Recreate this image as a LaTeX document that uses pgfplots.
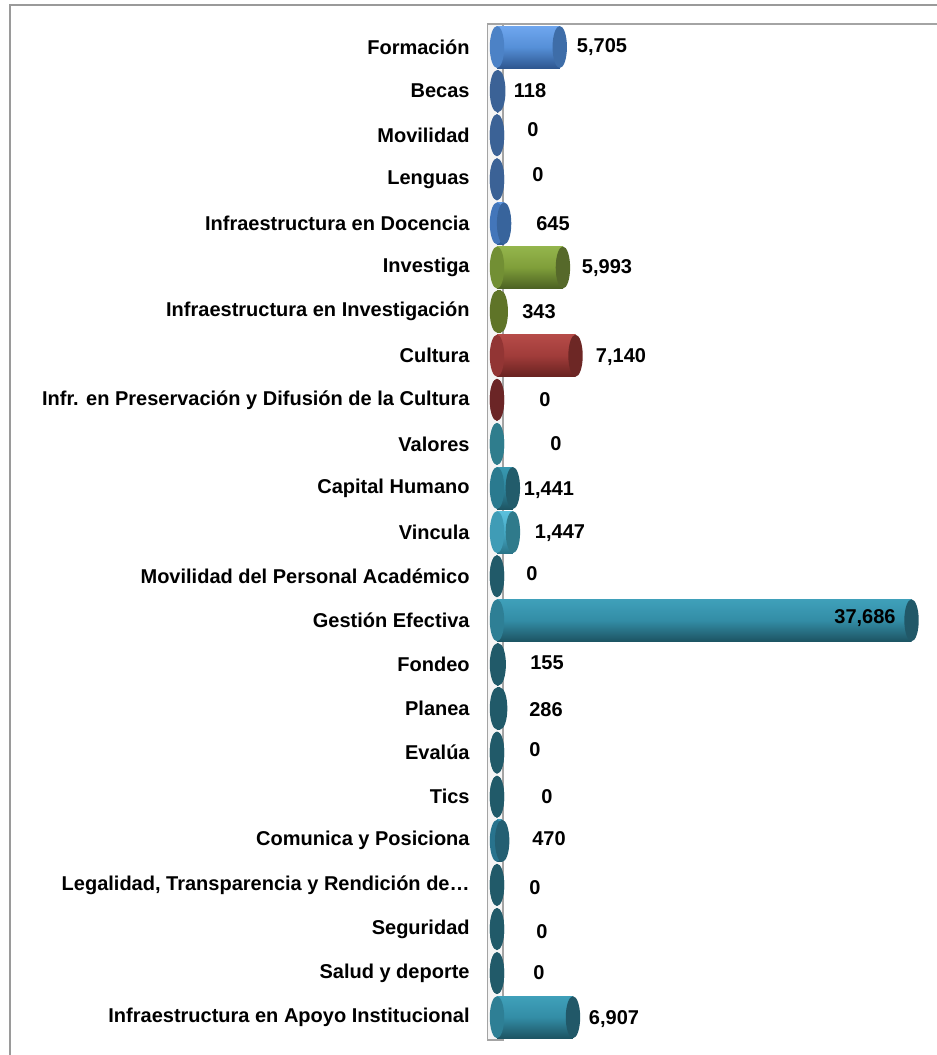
\documentclass[border=0pt]{standalone}
\usepackage{fontspec}
\setmainfont{Liberation Sans}
\usepackage{pgfplots}
\pgfplotsset{compat=1.18}
\pgfdeclareplotmark{capE}{\pgfpathellipse{\pgfpointorigin}{\pgfqpoint{3.6pt}{0pt}}{\pgfqpoint{0pt}{10.5pt}}\pgfusepathqfill}
% colours
\definecolor{bAl}{HTML}{6FA6EE}\definecolor{bAb}{HTML}{5690D8}\definecolor{bAd}{HTML}{2E5790}\definecolor{bAc}{HTML}{3E6DA8}
\definecolor{bB}{HTML}{3B6296}
\definecolor{bCl}{HTML}{5E96E0}\definecolor{bCb}{HTML}{4A80C8}\definecolor{bCd}{HTML}{2E5A92}\definecolor{bCc}{HTML}{38649C}
\definecolor{gAl}{HTML}{94B54C}\definecolor{gAb}{HTML}{7F9E3A}\definecolor{gAd}{HTML}{4B6122}\definecolor{gAc}{HTML}{56692A}
\definecolor{gB}{HTML}{5F7428}
\definecolor{rAl}{HTML}{B54B48}\definecolor{rAb}{HTML}{A03C3A}\definecolor{rAd}{HTML}{682220}\definecolor{rAc}{HTML}{6D2725}
\definecolor{rB}{HTML}{6B2526}
\definecolor{tV}{HTML}{2F7D8D}
\definecolor{tHl}{HTML}{3898B0}\definecolor{tHb}{HTML}{2E869E}\definecolor{tHd}{HTML}{1E5563}\definecolor{tHc}{HTML}{225C6B}
\definecolor{tIl}{HTML}{5CC0DC}\definecolor{tIb}{HTML}{46AAC6}\definecolor{tId}{HTML}{2A7488}\definecolor{tIc}{HTML}{2F7A8B}
\definecolor{tD}{HTML}{215A69}
\definecolor{tGl}{HTML}{3FA0BA}\definecolor{tGb}{HTML}{338DA6}\definecolor{tGd}{HTML}{1D5463}\definecolor{tGc}{HTML}{215868}
\definecolor{tCl}{HTML}{3A9AB8}\definecolor{tCb}{HTML}{2C7E9A}\definecolor{tCd}{HTML}{1D5466}\definecolor{tCc}{HTML}{245F72}
\definecolor{frame}{HTML}{9A9A9A}
% #1 index, #2 value, #3 light, #4 base, #5 dark, #6 cap
\newcommand{\cyl}[6]{%
  \addplot[only marks, mark=capE, mark options={fill=#4!75!#5, draw=none}] coordinates {(0,#1)};
  \addplot[xbar, bar width=21pt, bar shift=0pt, draw=none, top color=#3, bottom color=#5, middle color=#4] coordinates {(#2,#1)};
  \addplot[only marks, mark=capE, mark options={fill=#6, draw=none}] coordinates {(#2,#1)};
}
\pgfplotstableread{
x y lab
9545 0 5,705
3000 0.98 118
3273 1.88 0
3727 2.90 0
5091 4.01 645
10000 5.01 5,993
3818 6.01 343
11273 7.03 7,140
4364 8.00 0
5364 9.00 0
4727 10.04 1,441
5727 11.02 1,447
3182 11.93 0
33455 12.95 37,686
4545 13.97 155
4455 15.03 286
3455 15.94 0
4545 17.00 0
4727 17.94 470
3455 19.05 0
4091 20.07 0
3818 21.00 0
10636 22.04 6,907
}\labtab
\begin{document}
\begin{tikzpicture}
\useasboundingbox (0,0) rectangle (468.5pt,527.5pt);
\clip (0,0) rectangle (468.5pt,527.5pt);
\draw[frame, line width=1pt] (5pt,-2pt) -- (5pt,525pt) -- (472pt,525pt);
\draw[frame!90, line width=0.9pt, fill=gray!8] (243.75pt,7.5pt) rectangle (251.5pt,515.5pt);
\draw[frame!90, line width=0.9pt] (243.75pt,515.5pt) -- (472pt,515.5pt);
\begin{axis}[
  at={(248.5pt,7.875pt)}, anchor=south west,
  scale only axis, width=220pt, height=507.15pt,
  xmin=0, xmax=40000, ymin=-0.5, ymax=22.5, y dir=reverse,
  clip=false,
  axis line style={draw=none},
  xtick=\empty,
  ytick={0,...,22},
  major tick length=0pt,
  yticklabels={Formación,Becas,Movilidad,Lenguas,Infraestructura en Docencia,Investiga,Infraestructura en Investigación,Cultura,Infr. en Preservación y Difusión de la Cultura,Valores,Capital Humano,Vincula,Movilidad del Personal Académico,Gestión Efectiva,Fondeo,Planea,Evalúa,Tics,Comunica y Posiciona,{Legalidad, Transparencia y Rendición de…},Seguridad,Salud y deporte,Infraestructura en Apoyo Institucional},
  yticklabel style={font=\fontsize{10}{12}\selectfont\bfseries, anchor=east, inner sep=0pt, xshift=-13.5pt},
]
\cyl{0}{5705}{bAl}{bAb}{bAd}{bAc}
\cyl{1}{118}{bB}{bB}{bB}{bB}
\cyl{2}{0}{bB}{bB}{bB}{bB}
\cyl{3}{0}{bB}{bB}{bB}{bB}
\cyl{4}{645}{bCl}{bCb}{bCd}{bCc}
\cyl{5}{5993}{gAl}{gAb}{gAd}{gAc}
\cyl{6}{343}{gB}{gB}{gB}{gB}
\cyl{7}{7140}{rAl}{rAb}{rAd}{rAc}
\cyl{8}{0}{rB}{rB}{rB}{rB}
\cyl{9}{0}{tV}{tV}{tV}{tV}
\cyl{10}{1441}{tHl}{tHb}{tHd}{tHc}
\cyl{11}{1447}{tIl}{tIb}{tId}{tIc}
\cyl{12}{0}{tD}{tD}{tD}{tD}
\cyl{13}{37686}{tGl}{tGb}{tGd}{tGc}
\cyl{14}{155}{tD}{tD}{tD}{tD}
\cyl{15}{286}{tD}{tD}{tD}{tD}
\cyl{16}{0}{tD}{tD}{tD}{tD}
\cyl{17}{0}{tD}{tD}{tD}{tD}
\cyl{18}{470}{tCl}{tCb}{tCd}{tCc}
\cyl{19}{0}{tD}{tD}{tD}{tD}
\cyl{20}{0}{tD}{tD}{tD}{tD}
\cyl{21}{0}{tD}{tD}{tD}{tD}
\cyl{22}{6907}{tGl}{tGb}{tGd}{tGc}
\addplot[draw=none, mark=none, nodes near coords, point meta=explicit symbolic,
  nodes near coords style={anchor=center, inner sep=0pt, font=\fontsize{10}{12}\selectfont\bfseries, text=black}]
  table[x=x, y=y, meta=lab] {\labtab};
\end{axis}
\end{tikzpicture}
\end{document}
